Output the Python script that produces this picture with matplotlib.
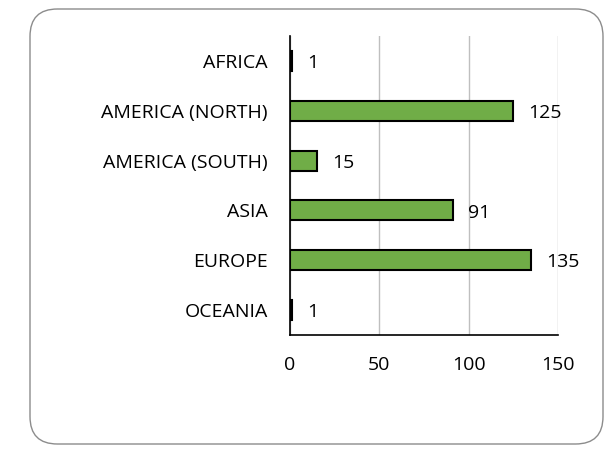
import matplotlib
matplotlib.use("Agg")
import matplotlib.pyplot as plt
from matplotlib.patches import FancyBboxPatch
from matplotlib.transforms import offset_copy

categories = ["AFRICA", "AMERICA (NORTH)", "AMERICA (SOUTH)", "ASIA", "EUROPE", "OCEANIA"]
values = [1, 125, 15, 91, 135, 1]
xticks = [0, 50, 100, 150]

plt.rcParams['font.family'] = ['Open Sans', 'DejaVu Sans']

W, H = 609, 457
fig = plt.figure(figsize=(W/100, H/100), dpi=100)

box = FancyBboxPatch((30/W, 13/H), 573/W, 435/H,
                     boxstyle="round,pad=0,rounding_size=0.045",
                     transform=fig.transFigure, facecolor="white",
                     edgecolor="#8c8c8c", linewidth=1.0, mutation_aspect=W/H,
                     zorder=-10)
fig.add_artist(box)

ax = fig.add_axes([290/W, 1-335/H, 268/W, 299/H])
ax.set_zorder(5)
ax.set_facecolor("none")
y = list(range(len(categories)))
ax.barh(y, values, height=0.4, color="#70AD47", edgecolor="black", linewidth=1.5, zorder=3)
ax.set_ylim(len(categories)-0.5, -0.5)
ax.set_xlim(0, 150)
ax.set_yticks(y)
ax.set_yticklabels(categories, fontsize=14)
ax.set_xticks(xticks)
ax.set_xticklabels([str(t) for t in xticks], fontsize=14)
ax.tick_params(axis='both', length=0)
ax.tick_params(axis='y', pad=16)
ax.tick_params(axis='x', pad=15)
ax.grid(axis='x', color="#bfbfbf", linewidth=1.0, zorder=0)
ax.set_axisbelow(True)
for s in ['top', 'right']:
    ax.spines[s].set_visible(False)
ax.spines['left'].set_color('black')
ax.spines['bottom'].set_color('black')
ax.spines['left'].set_linewidth(1.2)
ax.spines['bottom'].set_linewidth(1.2)

tr = offset_copy(ax.transData, fig=fig, x=11, y=-1.5, units='points')
for yi, v in zip(y, values):
    ax.text(v, yi, str(v), transform=tr, va='center', ha='left', fontsize=14)

fig.savefig("out.png", dpi=100)
